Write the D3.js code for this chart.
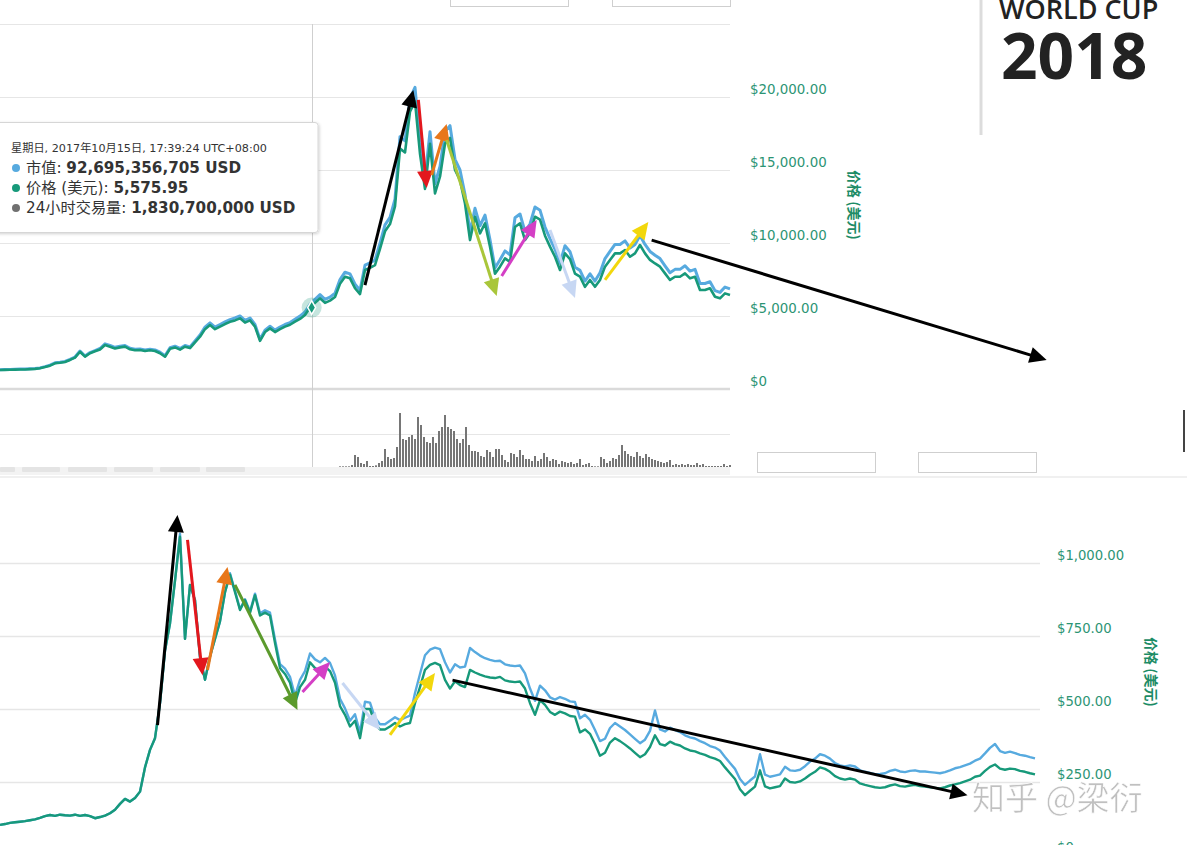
<!DOCTYPE html>
<html><head><meta charset="utf-8">
<script src="https://cdn.jsdelivr.net/npm/d3@7"></script>
<style>
html,body{margin:0;padding:0;background:#fff;overflow:hidden}
svg{display:block}
</style></head><body>
<svg id="chart" width="1187" height="845"></svg>
<script>
// ---------------- DATA ----------------
// Upper chart (Bitcoin-like): one point every 3 days from 2017-04-11
const TOP_START = "2017-04-11";
const TOP_STEP_DAYS = 3;
const topPrice = [1300,1310,1320,1330,1340,1340,1360,1380,1420,1500,1600,1760,1800,1850,1990,2150,2550,2220,2450,2580,
2700,3010,2900,2780,2850,2900,2720,2650,2670,2600,2650,2600,2450,2210,2750,2850,2700,2900,2800,3200,
3580,4100,4380,4100,4270,4450,4600,4700,4840,4550,4700,4270,3300,3900,4150,3900,4100,4270,4400,4610,
4800,5070,5580,5900,6210,5900,6050,6300,7200,7690,7580,6900,6500,8150,8300,8490,9600,10800,11300,12500,
16480,16200,19000,19700,16100,13700,16800,13400,14540,16800,17200,15000,14300,12700,10200,11800,10660,11350,9750,7900,
8380,8950,8700,11100,11350,10200,10700,11800,11600,10500,9750,9060,8150,9290,8900,7900,7690,7000,7470,7000,
7470,8380,8840,9290,9290,9520,9060,9290,9860,9290,8840,8600,8380,7920,7470,7690,7690,7920,7580,7690,
6780,6780,6900,6320,6210,6550,6440];
// market cap, billions USD
const topCap = [21.2,21.4,21.5,21.7,21.8,21.8,22.2,22.5,23.1,24.5,26.1,28.7,29.3,30.2,32.4,35.0,41.6,36.2,39.9,42.1,
44.4,49.5,47.7,45.7,46.9,47.7,44.7,43.6,43.9,42.8,43.6,42.8,40.3,36.4,45.2,46.9,44.4,47.7,46.1,52.6,
59.2,67.9,72.5,67.9,70.7,73.6,76.1,77.8,80.1,75.3,77.8,70.7,54.6,64.5,68.7,64.5,67.9,70.7,72.8,76.3,
79.9,84.4,92.9,98.2,103.4,98.2,100.7,104.9,119.9,128.0,126.2,114.9,108.2,135.7,138.2,141.4,159.8,179.8,188.1,208.1,
276.5,271.8,318.8,330.6,270.2,229.9,281.9,224.9,244.0,281.9,288.6,251.7,240.0,213.1,171.2,198.0,178.9,190.5,163.6,132.6,
141.6,151.3,147.0,187.6,191.8,172.4,180.8,199.4,196.0,177.5,164.8,153.1,137.7,157.0,150.4,133.5,130.0,118.3,126.2,118.3,
127.4,142.9,150.7,158.4,158.4,162.3,154.5,158.4,168.1,158.4,150.7,146.6,142.9,135.0,127.4,131.1,131.1,135.0,129.2,131.1,
115.6,115.6,117.6,107.8,105.9,111.7,109.8];
// 24h volume, billions USD, every 1.8 days from 2017-11-01
const VOL_START = "2017-11-01";
const VOL_STEP_DAYS = 1.8;
const topVolume = [0.2,0.2,0.2,0.2,0.6,3.6,3.0,1.2,0.9,1.8,
0.3,0.3,0.5,1.2,1.8,5.4,3.0,2.4,2.7,6.0,
16.2,8.4,8.1,9.0,9.6,8.4,15.0,12.6,9.0,7.5,
7.2,9.0,7.2,10.8,12.0,15.6,12.0,11.4,10.8,8.4,
7.2,8.4,12.0,6.6,4.8,4.8,4.5,3.3,3.0,5.1,
4.5,3.0,5.4,5.4,3.6,2.1,1.5,4.2,3.9,3.0,
5.1,3.6,2.4,2.4,1.8,3.3,1.8,2.4,4.2,3.0,
1.8,2.4,2.1,0.9,1.8,1.5,1.2,1.5,0.9,1.2,
2.4,0.6,0.9,1.2,0.3,0.2,0.2,3.0,2.4,1.2,
1.8,2.7,2.4,3.6,6.6,4.8,3.9,3.3,3.0,4.5,
3.3,2.7,3.9,3.0,2.4,2.1,1.8,1.5,1.2,1.5,
2.1,0.6,0.9,0.6,0.9,0.6,0.9,0.6,0.6,1.2,
0.6,0.9,0.3,0.3,0.3,0.3,0.3,0.3,0.9,0.3,
0.6];
const topTickValues = [0,5000,10000,15000,20000];
const topTickLabels = ["$0","$5,000.00","$10,000.00","$15,000.00","$20,000.00"];

// Lower chart: one point every 2 days from 2017-09-01
const BOT_START = "2017-09-01";
const BOT_STEP_DAYS = 2;
const botPrice = [103,106,110,112,114,116,119,122,127,133,
137,134,138,136,135,138,134,137,133,126,
130,135,143,155,175,192,183,195,217,300,
360,400,520,700,793,940,1090,740,925,873,
678,600,680,740,800,900,960,900,839,873,
829,890,820,830,820,726,640,620,590,520,
575,600,660,640,630,645,630,590,510,480,
440,460,400,500,500,450,430,430,440,452,
440,448,452,520,575,634,651,658,650,600,
570,595,582,575,634,625,618,612,608,606,
610,598,594,592,594,570,520,480,530,514,
490,480,491,485,476,474,420,430,415,380,
340,350,385,400,390,378,365,350,335,345,
370,410,380,375,388,380,375,365,358,355,
348,343,335,330,322,300,280,260,225,205,
220,234,290,235,228,232,236,262,250,248,
252,262,275,285,300,295,285,270,262,258,
262,258,245,240,236,232,230,232,238,242,
236,234,238,240,236,234,232,230,228,232,
238,242,246,252,258,268,272,288,302,310,
296,292,296,294,288,285,280,276];
const botCap = [10.3,10.6,11.0,11.2,11.4,11.6,11.9,12.2,12.7,13.3,
13.7,13.4,13.8,13.6,13.5,13.8,13.4,13.7,13.3,12.6,
13.0,13.5,14.3,15.5,17.5,19.2,18.3,19.5,21.7,30.0,
36.0,40.0,52.0,70.0,79.3,94.0,110.0,74.0,92.5,87.3,
67.8,60.0,68.0,74.0,80.0,90.0,96.5,90.5,84.2,87.6,
83.4,89.5,82.8,83.8,83.0,73.8,65.4,63.8,61.0,54.5,
60.0,63.0,69.0,67.0,66.0,67.5,65.8,61.5,53.5,50.2,
46.0,48.2,42.0,52.5,52.2,47.0,44.8,44.8,46.0,47.2,
46.2,47.0,47.7,55.5,62.0,68.4,70.3,71.0,70.5,66.0,
62.5,65.3,64.2,64.5,70.9,69.5,68.3,67.4,66.8,66.4,
66.5,65.3,64.9,64.7,64.9,62.2,57.0,52.8,58.0,56.4,
54.0,53.2,54.1,53.5,52.6,52.4,46.8,48.0,46.3,42.8,
39.0,39.8,43.5,45.2,44.0,42.8,41.3,39.8,38.3,39.5,
42.5,49.5,43.0,42.3,43.6,42.8,42.1,41.0,40.3,39.9,
39.0,38.3,37.3,36.8,35.8,33.6,31.5,29.5,26.0,24.0,
25.5,26.9,34.5,27.5,26.8,27.2,27.6,30.2,29.0,28.8,
29.2,30.4,32.0,33.0,34.5,34.0,33.0,31.5,30.7,30.3,
30.7,30.3,29.0,28.5,28.1,27.7,27.8,28.0,28.8,29.2,
28.6,28.4,28.8,29.0,28.6,28.6,28.4,28.2,28.0,28.4,
29.0,29.7,30.1,30.7,31.3,32.3,33.0,34.8,36.7,38.0,
35.6,35.0,35.4,34.9,34.3,34.0,33.5,33.1];
const botTickValues = [0,250,500,750,1000];
const botTickLabels = ["$0","$250.00","$500.00","$750.00","$1,000.00"];

// tooltip (hovered point)
const hoverDate = "2017-10-15";
const hoverPrice = 5575.95;
const tooltipLines = [
  {label:"星期日, 2017年10月15日, 17:39:24 UTC+08:00"},
  {label:"市值: ", value:"92,695,356,705 USD", series:0},
  {label:"价格 (美元): ", value:"5,575.95", series:1},
  {label:"24小时交易量: ", value:"1,830,700,000 USD", series:2}
];

// hand-drawn trend arrows: [date, price] -> [date, price]
const topArrowFrom = [["2017-11-16",7120],["2017-12-18",19800],["2017-12-26",14660],["2018-01-04",17050],["2018-02-06",7740],["2018-03-07",10890],["2018-04-09",7470],["2018-05-07",10200]];
const topArrowTo   = [["2017-12-15",20480],["2017-12-23",13770],["2018-01-04",18150],["2018-02-03",6370],["2018-02-27",11580],["2018-03-22",6230],["2018-05-05",11440],["2018-12-30",1990]];
const botArrowFrom = [["2017-11-03",445],["2017-11-15",1079],["2017-11-23",634],["2017-12-04",925],["2017-12-31",558],["2018-01-16",589],["2018-02-04",411],["2018-03-01",599]];
const botArrowTo   = [["2017-11-11",1164],["2017-11-21",616],["2017-12-01",986],["2017-12-29",497],["2018-01-11",661],["2018-01-31",428],["2018-02-22",623],["2018-09-23",205]];

// ---------------- STYLE ----------------
const C_BLUE = "#57aadf", C_GREEN = "#17997a", C_VOL = "#767676", C_GRID = "#e6e6e6", C_LABEL = "#2c9474";
const topArrowColors = ["#000000","#e3171d","#e8771a","#a9c63a","#d43fc5","#c7d7f3","#f2d70c","#000000"];
const botArrowColors = ["#000000","#e3171d","#e8771a","#5b9a2c","#d43fc5","#c7d7f3","#f2d70c","#000000"];

const parse = d3.utcParse("%Y-%m-%d");
const DAY = 864e5;
const svg = d3.select("#chart");

const defs = svg.append("defs");
const f = defs.append("filter").attr("id","shadow").attr("x","-10%").attr("y","-10%").attr("width","130%").attr("height","140%");
f.append("feDropShadow").attr("dx",1).attr("dy",1).attr("stdDeviation",1.5).attr("flood-color","#000").attr("flood-opacity",0.18);

// ================= UPPER CHART =================
const topStart = parse(TOP_START);
const topDates = topPrice.map((_, i) => new Date(+topStart + i * TOP_STEP_DAYS * DAY));
const volStart = parse(VOL_START);
const volDates = topVolume.map((_, i) => new Date(+volStart + i * VOL_STEP_DAYS * DAY));

const xTop = d3.scaleUtc().domain([topDates[0], topDates[topDates.length-1]]).range([0, 730]);
const yTop = d3.scaleLinear().domain([0, 25000]).range([389, 24]);
const yTopCap = d3.scaleLinear().domain([0, 400]).range([389, 24]);
const yVol = d3.scaleLinear().domain([0, 23.7]).range([467, 388]);

const gTop = svg.append("g");

// top buttons (cut off)
[[450,568],[612,730]].forEach(([a,b]) => gTop.append("rect").attr("x",a+0.5).attr("y",-10).attr("width",b-a).attr("height",16.5).attr("fill","#fff").attr("stroke","#cfcfcf"));

// gridlines
gTop.selectAll(".gt").data([5000,10000,15000,20000,25000]).join("line")
  .attr("x1",0).attr("x2",730).attr("y1",d=>Math.round(yTop(d))+0.5).attr("y2",d=>Math.round(yTop(d))+0.5)
  .attr("stroke",C_GRID).attr("stroke-width",1.2);
gTop.append("line").attr("x1",0).attr("x2",730).attr("y1",yTop(0)).attr("y2",yTop(0)).attr("stroke","#dadada").attr("stroke-width",2.5);
gTop.append("line").attr("x1",0).attr("x2",730).attr("y1",Math.round(yVol(10))+0.5).attr("y2",Math.round(yVol(10))+0.5).attr("stroke",C_GRID).attr("stroke-width",1.2);

// crosshair
const hx = xTop(parse(hoverDate));
gTop.append("line").attr("x1",Math.round(hx)+0.5).attr("x2",Math.round(hx)+0.5).attr("y1",24).attr("y2",467).attr("stroke","#cfcfcf").attr("stroke-width",1);

// volume bars
gTop.selectAll(".vb").data(topVolume).join("rect")
  .attr("x",(d,i)=>xTop(volDates[i])-1).attr("width",2)
  .attr("y",d=>yVol(d)).attr("height",d=>yVol(0)-yVol(d))
  .attr("fill",C_VOL);

// lines
const lineTopCap = d3.line().x((d,i)=>xTop(topDates[i])).y(d=>yTopCap(d)).curve(d3.curveLinear);
const lineTopPrice = d3.line().x((d,i)=>xTop(topDates[i])).y(d=>yTop(d)).curve(d3.curveLinear);
gTop.append("path").datum(topCap).attr("d",lineTopCap).attr("fill","none").attr("stroke",C_BLUE).attr("stroke-width",3).attr("stroke-linejoin","round");
gTop.append("path").datum(topPrice).attr("d",lineTopPrice).attr("fill","none").attr("stroke",C_GREEN).attr("stroke-width",2.6).attr("stroke-linejoin","round");

// hover marker
const hy = yTop(hoverPrice);
gTop.append("circle").attr("cx",hx).attr("cy",hy).attr("r",10).attr("fill",C_GREEN).attr("opacity",0.25);
gTop.append("path").attr("d",d3.symbol(d3.symbolDiamond,55)()).attr("transform",`translate(${hx},${hy})`).attr("fill",C_GREEN).attr("stroke","#fff").attr("stroke-width",1.5);

// bottom strip of upper screenshot
gTop.append("rect").attr("x",0).attr("y",467).attr("width",730).attr("height",8).attr("fill","#f3f3f3");
[[0,15],[22,60],[68,107],[114,153],[160,200],[206,245]].forEach(([a,b]) =>
  gTop.append("rect").attr("x",a).attr("y",467).attr("width",b-a).attr("height",5).attr("rx",1).attr("fill","#e4e4e4"));
[[757,875],[918,1036]].forEach(([a,b]) => gTop.append("rect").attr("x",a+0.5).attr("y",452.5).attr("width",b-a).attr("height",20).attr("fill","#fff").attr("stroke","#cfcfcf"));
svg.append("line").attr("x1",0).attr("x2",1187).attr("y1",477).attr("y2",477).attr("stroke","#f0f0f0").attr("stroke-width",2);
svg.append("line").attr("x1",1184).attr("x2",1184).attr("y1",410).attr("y2",452).attr("stroke","#444").attr("stroke-width",2);

// right axis
const axTop = d3.axisRight(yTop).tickValues(topTickValues).tickFormat((d,i)=>topTickLabels[i]).tickSize(0).tickPadding(0);
const gax = gTop.append("g").attr("transform","translate(750,0)").call(axTop);
gax.select(".domain").remove();
gax.selectAll("text").attr("y",-8).attr("fill",C_LABEL).style("font-family","'DejaVu Sans', sans-serif").style("font-size","13.4px");
gTop.append("text").attr("transform","translate(849,205) rotate(90)").attr("text-anchor","middle")
  .attr("fill","#1d8c66").style("font-family","'Noto Sans CJK SC', sans-serif").style("font-weight","bold").style("font-size","14px").text("价格 (美元)");

// tooltip
const tt = gTop.append("g");
tt.append("rect").attr("x",-6).attr("y",122.5).attr("width",324).attr("height",110).attr("rx",3).attr("fill","#fff").attr("stroke","#d6d6d6").attr("filter","url(#shadow)");
const bulletColors = [C_BLUE, C_GREEN, "#707070"];
tooltipLines.forEach((ln, i) => {
  const y = i === 0 ? 152 : 152 + 20 * i + 1;
  if (i === 0) {
    tt.append("text").attr("x",11).attr("y",y).attr("fill","#333").style("font-family","'DejaVu Sans', 'Noto Sans CJK SC', sans-serif").style("font-size","11.2px").text(ln.label);
  } else {
    tt.append("circle").attr("cx",16).attr("cy",y-5).attr("r",4).attr("fill",bulletColors[ln.series]);
    const t = tt.append("text").attr("x",26).attr("y",y).attr("fill","#333").style("font-family","'DejaVu Sans', 'Noto Sans CJK SC', sans-serif").style("font-size","15.2px");
    t.append("tspan").text(ln.label);
    t.append("tspan").style("font-weight","bold").text(ln.value);
  }
});

// arrows
function drawArrow(g, p1, p2, color, w, hl, hw) {
  const dx = p2[0]-p1[0], dy = p2[1]-p1[1], len = Math.hypot(dx,dy);
  const ux = dx/len, uy = dy/len;
  const bx = p2[0]-ux*hl, by = p2[1]-uy*hl;
  g.append("line").attr("x1",p1[0]).attr("y1",p1[1]).attr("x2",bx+ux*2).attr("y2",by+uy*2)
    .attr("stroke",color).attr("stroke-width",w);
  g.append("path").attr("d",`M${p2[0]},${p2[1]}L${bx-uy*hw},${by+ux*hw}L${bx+uy*hw},${by-ux*hw}Z`).attr("fill",color);
}
const gArrTop = svg.append("g");
topArrowFrom.forEach((a, i) => {
  const b = topArrowTo[i];
  drawArrow(gArrTop, [xTop(parse(a[0])), yTop(a[1])], [xTop(parse(b[0])), yTop(b[1])], topArrowColors[i], 3, 17, 8);
});

// WORLD CUP 2018 badge
svg.append("line").attr("x1",981).attr("x2",981).attr("y1",0).attr("y2",135).attr("stroke","#dcdcdc").attr("stroke-width",3);
svg.append("text").attr("x",999).attr("y",19).attr("fill","#222").style("font-family","'Open Sans', sans-serif").style("font-weight","600").style("font-size","27px").text("WORLD CUP");
svg.append("text").attr("x",1001).attr("y",79).attr("fill","#222").style("font-family","'Open Sans', sans-serif").style("font-weight","bold").style("font-size","64px").text("2018");

// ================= LOWER CHART =================
const botStart = parse(BOT_START);
const botDates = botPrice.map((_, i) => new Date(+botStart + i * BOT_STEP_DAYS * DAY));
const xBot = d3.scaleUtc().domain([botDates[0], botDates[botDates.length-1]]).range([0, 1035]);
const yBot = d3.scaleLinear().domain([0, 1250]).range([855, 490]);
const yBotCap = d3.scaleLinear().domain([0, 125]).range([855, 490]);

const gBot = svg.append("g");
gBot.selectAll(".gb").data(botTickValues.filter(d=>d>0)).join("line")
  .attr("x1",0).attr("x2",1040).attr("y1",d=>Math.round(yBot(d))+0.5).attr("y2",d=>Math.round(yBot(d))+0.5)
  .attr("stroke",C_GRID).attr("stroke-width",1.5);

const lineBotCap = d3.line().x((d,i)=>xBot(botDates[i])).y(d=>yBotCap(d));
const lineBotPrice = d3.line().x((d,i)=>xBot(botDates[i])).y(d=>yBot(d));
gBot.append("path").datum(botCap).attr("d",lineBotCap).attr("fill","none").attr("stroke",C_BLUE).attr("stroke-width",2.4).attr("stroke-linejoin","round");
gBot.append("path").datum(botPrice).attr("d",lineBotPrice).attr("fill","none").attr("stroke",C_GREEN).attr("stroke-width",2.4).attr("stroke-linejoin","round");

const axBot = d3.axisRight(yBot).tickValues(botTickValues).tickFormat((d,i)=>botTickLabels[i]).tickSize(0).tickPadding(0);
const gbx = gBot.append("g").attr("transform","translate(1057,0)").call(axBot);
gbx.select(".domain").remove();
gbx.selectAll("text").attr("y",-8).attr("fill",C_LABEL).style("font-family","'DejaVu Sans', sans-serif").style("font-size","13.2px");
gBot.append("text").attr("transform","translate(1146,672) rotate(90)").attr("text-anchor","middle")
  .attr("fill","#1d8c66").style("font-family","'Noto Sans CJK SC', sans-serif").style("font-weight","bold").style("font-size","14px").text("价格 (美元)");

const gArrBot = svg.append("g");
botArrowFrom.forEach((a, i) => {
  const b = botArrowTo[i];
  drawArrow(gArrBot, [xBot(parse(a[0])), yBot(a[1])], [xBot(parse(b[0])), yBot(b[1])], botArrowColors[i], 3, 17, 8);
});

// watermark
svg.append("text").attr("x",972).attr("y",810).attr("fill","#bdbdbd").attr("stroke","#fff").attr("stroke-width",0.6).attr("opacity",0.95)
  .style("font-family","'Noto Sans CJK SC', sans-serif").style("font-size","33px").text("知乎 @梁衍");
</script></body></html>
